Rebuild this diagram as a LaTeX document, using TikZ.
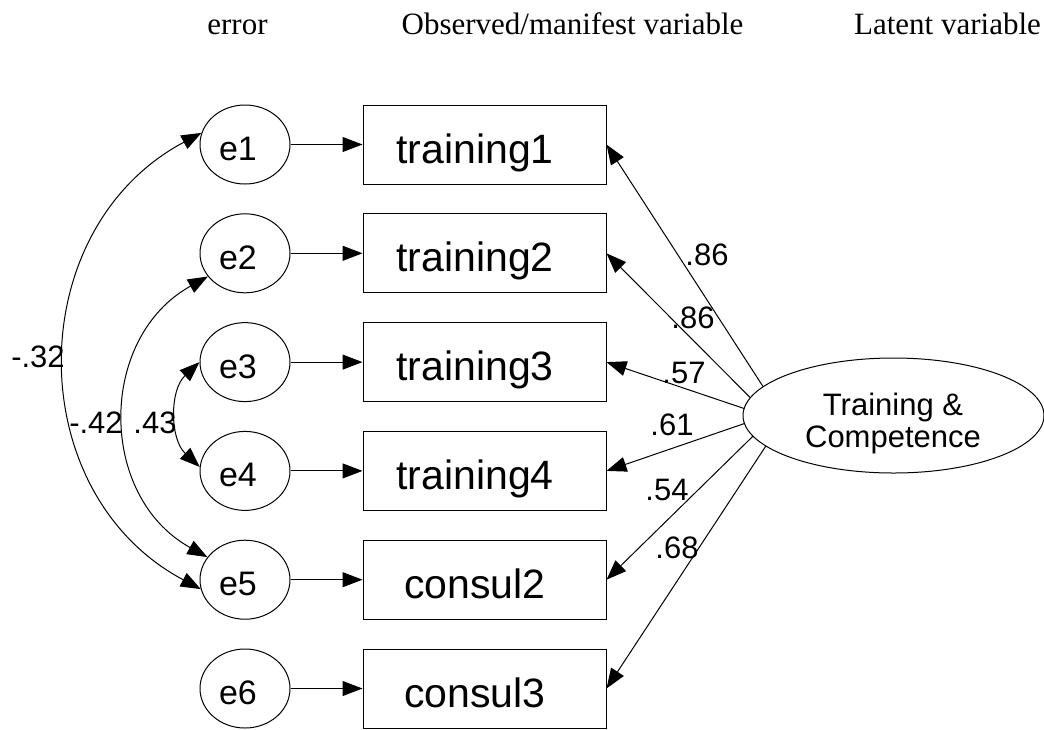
\documentclass[tikz,border=0pt]{standalone}
\usepackage{fontspec}
\setmainfont{Liberation Sans}
\newfontfamily\hdrfont{Liberation Serif}
\usetikzlibrary{arrows.meta,shapes.geometric,calc}
\tikzset{
  err/.style={ellipse, draw, line width=1pt, minimum width=90pt, minimum height=79pt, inner sep=0pt,
    font=\fontsize{34}{36}\selectfont, text height=32pt, text depth=0pt},
  obs/.style={rectangle, draw, line width=1pt, minimum width=243pt, minimum height=79pt, inner sep=0pt,
    font=\fontsize{41}{44}\selectfont, text height=45pt, text depth=8pt},
  lat/.style={ellipse, draw, line width=1pt, minimum width=301pt, minimum height=115pt, inner sep=0pt},
  lbl/.style={font=\fontsize{31}{32}\selectfont, inner sep=0pt},
  hdr/.style={font=\hdrfont\fontsize{31}{33}\selectfont, anchor=base, inner sep=0pt},
  tip/.tip={Triangle[length=20pt,width=15pt]},
  arr/.style={line width=1pt, -tip},
  darr/.style={line width=1pt, tip-tip},
}
\begin{document}
\begin{tikzpicture}[x=1pt,y=1pt]
\useasboundingbox (0,0) rectangle (1044,-729);
% headers
\node[hdr] (h1) at (237.5,-34) {error};
\node[hdr] (h2) at (572.5,-34) {Observed/manifest variable};
\node[hdr] (h3) at (947.5,-34) {Latent variable};
% error terms
\node[err] (e1) at (245,-144.5) {\hspace*{-14pt}e1};
\node[err] (e2) at (245,-253.3) {\hspace*{-14pt}e2};
\node[err] (e3) at (245,-362.1) {\hspace*{-14pt}e3};
\node[err] (e4) at (245,-470.9) {\hspace*{-14pt}e4};
\node[err] (e5) at (245,-579.7) {\hspace*{-14pt}e5};
\node[err] (e6) at (245,-688.5) {\hspace*{-14pt}e6};
% observed
\node[obs] (b1) at (484.5,-144.5) {\hspace*{-19pt}training1};
\node[obs] (b2) at (484.5,-253.3) {\hspace*{-19pt}training2};
\node[obs] (b3) at (484.5,-362.1) {\hspace*{-19pt}training3};
\node[obs] (b4) at (484.5,-470.9) {\hspace*{-19pt}training4};
\node[obs] (b5) at (484.5,-579.7) {\hspace*{-19pt}consul2};
\node[obs] (b6) at (484.5,-688.5) {\hspace*{-19pt}consul3};
% latent
\node[lat] (L) at (893.5,-415.5) {};
\node[lbl, align=center] (Ltext) at (893,-423) {Training \&\\Competence};
% start points on the latent ellipse
\coordinate (s1) at ($(L.center)+(150:150.5pt and 57.5pt)$);
\coordinate (s2) at ($(L.center)+(162:150.5pt and 57.5pt)$);
\coordinate (s3) at ($(L.center)+(173:150.5pt and 57.5pt)$);
\coordinate (s4) at ($(L.center)+(188:150.5pt and 57.5pt)$);
\coordinate (s5) at ($(L.center)+(201:150.5pt and 57.5pt)$);
\coordinate (s6) at ($(L.center)+(212:150.5pt and 57.5pt)$);
% error -> observed
\foreach \i in {1,...,6} { \draw[arr] (e\i) -- (b\i); }
% loadings
\foreach \i in {1,...,6} { \draw[arr] (s\i) -- (b\i.east); }
% covariances
\draw[darr] (e1.165) to[out=208, in=152, looseness=1.15] (e5.192);
\draw[darr] (e2.212) to[out=209, in=151, looseness=1.15] (e5.149);
\draw[darr] (e3.180) to[out=223, in=137, looseness=1.0] (e4.175);
% labels
\node[lbl] (c1) at (38,-357) {-.32};
\node[lbl] (c2) at (96,-423) {-.42};
\node[lbl] (c3) at (155,-423) {.43};
\node[lbl] (l1) at (707,-255) {.86};
\node[lbl] (l2) at (693,-318) {.86};
\node[lbl] (l3) at (684,-373) {.57};
\node[lbl] (l4) at (672,-425) {.61};
\node[lbl] (l5) at (667,-490) {.54};
\node[lbl] (l6) at (677,-548) {.68};
\end{tikzpicture}
\end{document}
